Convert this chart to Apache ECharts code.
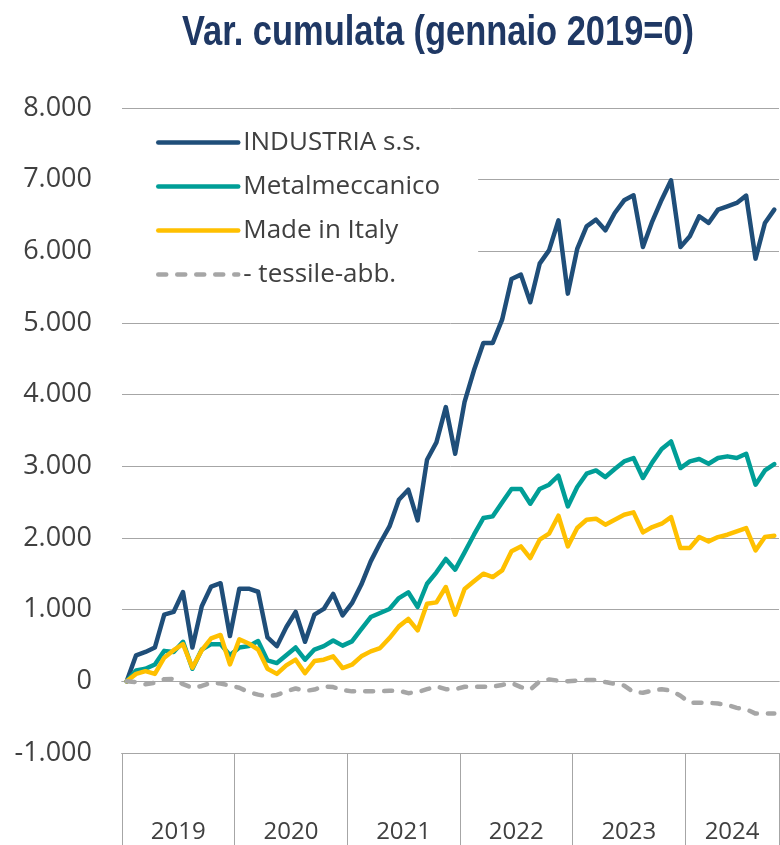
<!DOCTYPE html>
<html>
<head>
<meta charset="utf-8">
<script src="https://cdn.jsdelivr.net/npm/echarts@6/dist/echarts.min.js"></script>
<style>
html,body{margin:0;padding:0;background:#fff;}
#chart{width:780px;height:845px;}
</style>
</head>
<body>
<div id="chart"></div>
<script>
// anni e mesi per anno (gen 2019 - ott 2024)
var years = ['2019', '2020', '2021', '2022', '2023', '2024'];
var monthsInYear = [12, 12, 12, 12, 12, 10];

var industria = [0, 363, 410, 472, 930, 968, 1246, 472, 1048, 1322, 1369, 632,
  1293, 1293, 1250, 614, 491, 755, 968, 552, 930, 1010, 1220, 920,
  1090, 1350, 1674, 1930, 2162, 2534, 2674, 2246, 3092, 3334, 3827, 3176,
  3900, 4340, 4722, 4722, 5047, 5614, 5675, 5289, 5828, 6014, 6433, 5410,
  6033, 6349, 6442, 6293, 6535, 6712, 6781, 6061, 6419, 6721, 6991, 6061,
  6210, 6489, 6396, 6582, 6628, 6675, 6777, 5898, 6396, 6582];
var metalmecc = [0, 151, 175, 236, 425, 410, 552, 175, 444, 519, 519, 363,
  472, 491, 562, 292, 255, 363, 472, 302, 444, 491, 570, 498,
  558, 730, 897, 953, 1009, 1162, 1242, 1037, 1362, 1521, 1707, 1558,
  1800, 2046, 2278, 2302, 2497, 2683, 2683, 2478, 2683, 2744, 2869, 2441,
  2711, 2897, 2943, 2850, 2962, 3069, 3116, 2837, 3055, 3241, 3348, 2976,
  3069, 3102, 3036, 3116, 3139, 3116, 3176, 2744, 2943, 3032];
var madeInItaly = [0, 104, 142, 104, 330, 434, 519, 189, 434, 599, 647, 236,
  585, 528, 444, 175, 104, 222, 302, 113, 283, 302, 349, 186,
  232, 349, 418, 465, 604, 767, 870, 711, 1083, 1102, 1316, 930,
  1288, 1395, 1502, 1455, 1548, 1814, 1883, 1720, 1976, 2060, 2311, 1883,
  2139, 2255, 2269, 2186, 2255, 2325, 2358, 2079, 2153, 2199, 2292, 1860,
  1860, 2013, 1953, 2013, 2046, 2093, 2139, 1827, 2013, 2032];
var tessile = [0, -10, -40, -20, 30, 35, -40, -90, -65, -20, -30, -60,
  -90, -150, -185, -210, -190, -140, -100, -135, -115, -70, -80, -120,
  -140, -140, -140, -140, -130, -130, -165, -150, -110, -70, -110, -110,
  -75, -75, -75, -75, -50, -25, -80, -115, 0, 25, 10, 0,
  10, 20, 20, -10, -35, -60, -150, -160, -130, -110, -130, -200,
  -300, -300, -300, -310, -330, -370, -390, -450, -450, -450];

var seriesNames = ['INDUSTRIA s.s.', 'Metalmeccanico', 'Made in Italy', '- tessile-abb.'];
var seriesColors = ['#1F4E79', '#009E97', '#FFC000', '#A6A6A6'];
var titleText = 'Var. cumulata (gennaio 2019=0)';

// categorie mensili
var months = [];
years.forEach(function (y, i) {
  for (var m = 1; m <= monthsInYear[i]; m++) months.push(y + '-' + (m < 10 ? '0' : '') + m);
});

// griglia a mezzi mesi per separatori d'anno ed etichette centrate
var halfSteps = [];
var yearEdges = [0];
var yearCenters = [];
var acc = 0;
monthsInYear.forEach(function (n) {
  yearCenters.push(acc * 2 + n);
  acc += n;
  yearEdges.push(acc * 2);
});
for (var k = 0; k <= acc * 2; k++) {
  var yi = 0;
  while (yi < yearEdges.length - 2 && k >= yearEdges[yi + 1]) yi++;
  halfSteps.push(years[yi]);
}

var grey = '#A6A6A6';
var txt = '#404040';
var font = "'Open Sans', 'Noto Sans', sans-serif";
var lw = 4.5;

function fmt(v) {
  var s = Math.abs(v).toString().replace(/\B(?=(\d{3})+(?!\d))/g, '.');
  return (v < 0 ? '-' : '') + s;
}

var hidden = { show: false };

var option = {
  animation: false,
  backgroundColor: '#fff',
  graphic: [{
    type: 'text',
    x: 438,
    y: 33,
    scaleX: 0.82,
    style: {
      text: titleText,
      fontFamily: "'Liberation Sans', Arial, sans-serif",
      fontWeight: 'bold',
      fontSize: 42,
      fill: '#1F3864',
      textAlign: 'center',
      textVerticalAlign: 'middle'
    }
  }],
  legend: {
    orient: 'vertical',
    left: 122,
    top: 119,
    padding: [10, 38, 12, 34],
    backgroundColor: '#fff',
    itemWidth: 80,
    itemHeight: 14,
    itemGap: 17,
    data: seriesNames,
    itemStyle: { opacity: 0 },
    lineStyle: { width: lw, cap: 'round' },
    textStyle: { fontFamily: font, fontSize: 26, color: txt, lineHeight: 27 }
  },
  grid: { left: 122, right: 1, top: 108, bottom: 92, containLabel: false },
  yAxis: {
    type: 'value',
    min: -1000,
    max: 8000,
    interval: 1000,
    axisLine: hidden,
    axisTick: hidden,
    axisLabel: { formatter: fmt, fontFamily: font, fontSize: 27, color: txt, margin: 30 },
    splitLine: { lineStyle: { color: grey, width: 1 } }
  },
  xAxis: [
    {
      type: 'category', data: months, boundaryGap: true, position: 'bottom',
      axisLine: { onZero: true, onZeroAxisIndex: 0, lineStyle: { color: grey } },
      axisTick: { inside: false, length: 8, lineStyle: { color: grey } },
      axisLabel: hidden, splitLine: hidden
    },
    {
      type: 'category', data: months, boundaryGap: true, position: 'bottom',
      axisLine: { onZero: true, onZeroAxisIndex: 0, lineStyle: { color: grey } },
      axisTick: { inside: true, length: 9, lineStyle: { color: grey } },
      axisLabel: hidden, splitLine: hidden
    },
    {
      type: 'category', data: months, boundaryGap: true, position: 'bottom',
      axisLine: { onZero: false, lineStyle: { color: grey } },
      axisTick: { inside: true, length: 7, lineStyle: { color: grey } },
      axisLabel: hidden, splitLine: hidden
    },
    {
      type: 'category', data: months, boundaryGap: true, position: 'bottom',
      axisLine: { onZero: false, lineStyle: { color: grey } },
      axisTick: { inside: false, length: 49, lineStyle: { color: grey } },
      axisLabel: hidden, splitLine: hidden
    },
    {
      type: 'category', data: halfSteps, boundaryGap: false, position: 'bottom',
      axisLine: { onZero: false, lineStyle: { color: grey } },
      axisTick: {
        inside: false, length: 92, lineStyle: { color: grey },
        interval: function (idx) { return yearEdges.indexOf(idx) >= 0; }
      },
      axisLabel: {
        interval: function (idx) { return yearCenters.indexOf(idx) >= 0; },
        fontFamily: font, fontSize: 24, color: txt, margin: 67
      },
      splitLine: hidden
    }
  ],
  series: [industria, metalmecc, madeInItaly, tessile].map(function (d, i) {
    return {
      name: seriesNames[i],
      type: 'line',
      data: d,
      xAxisIndex: 0,
      showSymbol: false,
      symbol: 'none',
      color: seriesColors[i],
      lineStyle: {
        color: seriesColors[i],
        width: lw,
        type: i === 3 ? [8, 11] : 'solid',
        cap: 'round',
        join: 'round'
      }
    };
  })
};

var myChart = echarts.init(document.getElementById('chart'), null, { renderer: 'canvas' });
myChart.setOption(option);
</script>
</body>
</html>
